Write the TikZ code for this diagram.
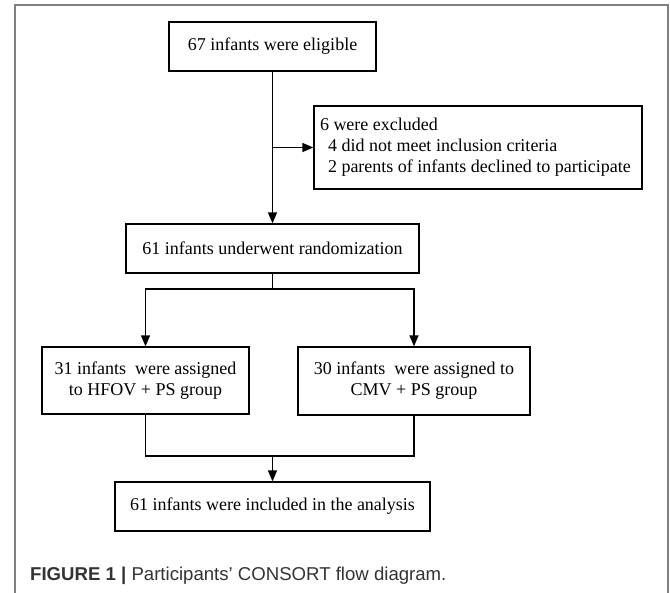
\documentclass[tikz,border=0pt]{standalone}
\usepackage{fontspec}
\setmainfont{Liberation Serif}
\newfontfamily\capsans{Liberation Sans}
\usetikzlibrary{calc}
\usetikzlibrary{arrows.meta}

\tikzset{
    flowbox/.style={draw, line width=1.3pt, inner sep=0pt, align=center,
        font=\fontsize{18}{21}\selectfont},
    flowline/.style={line width=1.4pt},
    flowarrow/.style={line width=1.4pt, -{Triangle[length=11pt,width=9pt]}},
}

\begin{document}
\begin{tikzpicture}[x=1pt,y=-1pt]
\useasboundingbox (0,0) rectangle (670,593);
% frame of the figure
\draw[gray, line width=1.6pt] (15,593)--(15,5)--(668,5)--(668,593);

\coordinate (split) at (272.5,289);
\coordinate (join) at (272.5,456);

\node[flowbox, minimum width=207pt, minimum height=49pt] (eligible) at (272.5,46.5)
    {67 infants were eligible};
\node[flowbox, align=flush left, text width=316pt, inner xsep=6pt, minimum height=83pt] (excluded) at (478,147.5)
    {6 were excluded\\
     \hspace*{8pt}4 did not meet inclusion criteria\\
     \hspace*{8pt}2 parents of infants declined to participate};
\node[flowbox, minimum width=293pt, minimum height=49pt] (randomization) at (272.5,248.5)
    {61 infants underwent randomization};
\node[flowbox, minimum width=207pt, minimum height=67pt] (hfov) at (145.5,380.5)
    {31 infants\ \ were assigned\\ to HFOV + PS group};
\node[flowbox, minimum width=232pt, minimum height=68pt] (cmv) at (414,381)
    {30 infants\ \ were assigned to\\ CMV + PS group};
\node[flowbox, minimum width=315pt, minimum height=49pt] (included) at (272.5,506.5)
    {61 infants were included in the analysis};

\coordinate (exclbranch) at (eligible |- excluded);

\draw[flowarrow] (eligible) -- (randomization);
\draw[flowarrow] (exclbranch) -- (excluded);
\draw[flowline] (randomization) -- (split);
\draw[flowarrow] (split) -| (hfov);
\draw[flowarrow] (split) -| (cmv);
\draw[flowline] (hfov) |- (join);
\draw[flowline] (cmv) |- (join);
\draw[flowarrow] (join) -- (included);

% caption
\node[anchor=base west, inner sep=0pt, text=black!80,
    font=\capsans\fontsize{18.6}{21}\selectfont] (figcaption) at (30,581)
    {\textbf{FIGURE 1 |} Participants’ CONSORT flow diagram.};
\end{tikzpicture}
\end{document}
